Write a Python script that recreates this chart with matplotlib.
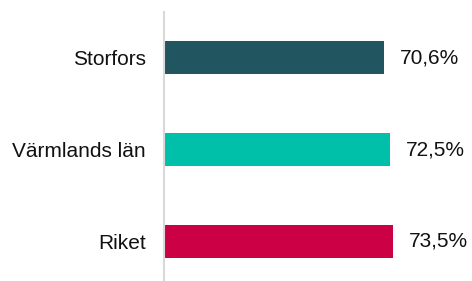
import matplotlib.pyplot as plt

categories = ["Storfors", "Värmlands län", "Riket"]
values = [70.6, 72.5, 73.5]
labels = ["70,6%", "72,5%", "73,5%"]
colors = ["#215660", "#00C0A9", "#CC0044"]

plt.rcParams['font.family'] = ['Liberation Sans', 'DejaVu Sans']

fig = plt.figure(figsize=(4.72, 2.81), dpi=100)
# axes runs a little past the bottom edge, like the original
ax = fig.add_axes([164 / 472, -6 / 281, 0.66, 275 / 281])

y = list(range(len(categories)))
ax.barh(y, values, height=0.36, color=colors)
for yi, v, lab in zip(y, values, labels):
    ax.text(v + 5, yi, lab, va="center", ha="left", fontsize=15, color="#111111")

ax.set_xlim(0, 100)
ax.set_ylim(2.5, -0.5)
ax.set_yticks(y)
ax.set_yticklabels(categories, fontsize=15, color="#111111")
ax.set_xticks([])
ax.tick_params(axis="y", length=0, pad=13)
for s in ["top", "right", "bottom"]:
    ax.spines[s].set_visible(False)
ax.spines["left"].set_color("#D9D9D9")
ax.spines["left"].set_linewidth(1.5)

fig.savefig("out.png", dpi=100)
